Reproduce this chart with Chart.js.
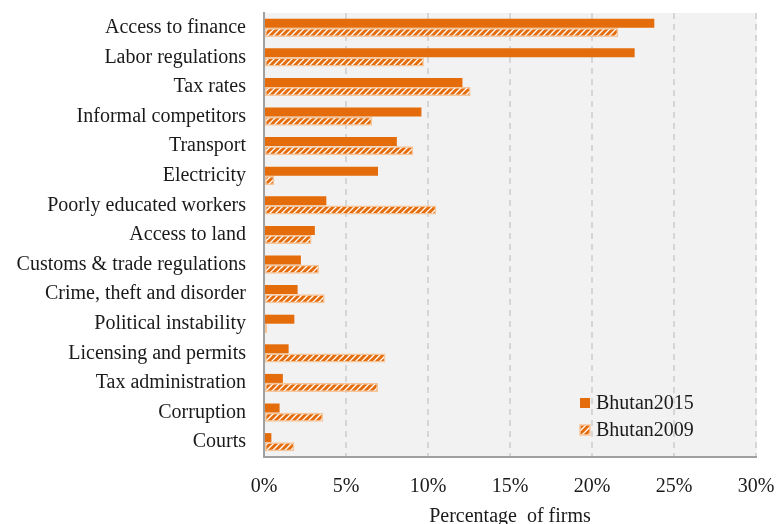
<!DOCTYPE html>
<html>
<head>
<meta charset="utf-8">
<script src="https://cdn.jsdelivr.net/npm/chart.js@4"></script>
<style>
  html, body { margin: 0; padding: 0; background: #ffffff; }
  #wrap { width: 776px; height: 524px; position: relative; }
</style>
</head>
<body>
<div id="wrap"><canvas id="obstacles"></canvas></div>
<script>
// Top business obstacles, share of firms (%)
const categories = [
  'Access to finance', 'Labor regulations', 'Tax rates', 'Informal competitors',
  'Transport', 'Electricity', 'Poorly educated workers', 'Access to land',
  'Customs & trade regulations', 'Crime, theft and disorder', 'Political instability',
  'Licensing and permits', 'Tax administration', 'Corruption', 'Courts'
];
const bhutan2015 = [23.8, 22.6, 12.1, 9.6, 8.1, 6.95, 3.8, 3.1, 2.25, 2.05, 1.85, 1.5, 1.15, 0.95, 0.45];
const bhutan2009 = [21.6, 9.75, 12.6, 6.6, 9.1, 0.63, 10.5, 2.9, 3.35, 3.7, 0.2, 7.4, 6.95, 3.6, 1.85];
const xTicks = [0, 5, 10, 15, 20, 25, 30];

const ORANGE = '#e46c0a';
const FONT = "'Liberation Serif', 'Times New Roman', serif";

// diagonal hatch used for the 2009 bars
const makeHatch = () => {
  const c = document.createElement('canvas');
  c.width = 6; c.height = 6;
  const g = c.getContext('2d');
  g.fillStyle = '#ffffff';
  g.fillRect(0, 0, 6, 6);
  g.strokeStyle = ORANGE;
  g.lineWidth = 3;
  g.beginPath();
  g.moveTo(-1, 7); g.lineTo(7, -1);
  g.moveTo(-4, 4); g.lineTo(4, -4);
  g.moveTo(2, 10); g.lineTo(10, 2);
  g.stroke();
  return g.createPattern(c, 'repeat');
};
const hatch = makeHatch();

// grey plot background
const plotBackground = {
  id: 'plotBackground',
  beforeDraw(chart) {
    const { ctx, chartArea: a } = chart;
    ctx.save();
    ctx.fillStyle = '#f2f2f2';
    ctx.fillRect(a.left, a.top, a.right - a.left + 1, a.bottom - a.top);
    ctx.restore();
  }
};

// legend drawn inside the plot, lower right
const innerLegend = {
  id: 'innerLegend',
  afterDraw(chart) {
    const { ctx } = chart;
    const x = 580, y0 = 403, step = 27;
    ctx.save();
    ctx.font = '20px ' + FONT;
    ctx.textBaseline = 'middle';
    chart.data.datasets.forEach((ds, i) => {
      const y = y0 + i * step;
      ctx.fillStyle = ds.backgroundColor;
      ctx.fillRect(x, y - 5, 10, 10);
      if (ds.borderWidth) {
        ctx.strokeStyle = ds.borderColor;
        ctx.lineWidth = 1.5;
        ctx.strokeRect(x, y - 5, 10, 10);
      }
      ctx.fillStyle = '#1a1a1a';
      ctx.fillText(ds.label, x + 16, y + 1);
    });
    ctx.restore();
  }
};

new Chart(document.getElementById('obstacles'), {
  type: 'bar',
  data: {
    labels: categories,
    datasets: [
      {
        label: 'Bhutan2015',
        data: bhutan2015,
        backgroundColor: ORANGE,
        borderWidth: 0,
        categoryPercentage: 0.62,
        barPercentage: 0.98
      },
      {
        label: 'Bhutan2009',
        data: bhutan2009,
        backgroundColor: hatch,
        borderColor: '#f7c59a',
        borderWidth: 1.5,
        borderSkipped: false,
        categoryPercentage: 0.62,
        barPercentage: 0.98
      }
    ]
  },
  options: {
    indexAxis: 'y',
    responsive: true,
    maintainAspectRatio: false,
    animation: false,
    layout: { autoPadding: false, padding: { top: 13, right: 20, bottom: 0, left: 0 } },
    scales: {
      x: {
        min: 0,
        max: 30,
        afterBuildTicks: (scale) => { scale.ticks = xTicks.map(v => ({ value: v })); },
        afterFit: (scale) => {
          scale.height = 67;
          scale.paddingLeft = 0;
          scale.paddingRight = 0;
        },
        ticks: {
          padding: 18,
          color: '#1a1a1a',
          font: { family: FONT, size: 20 },
          callback: (v) => v + '%'
        },
        grid: {
          color: '#d6d6d6',
          lineWidth: 2,
          drawTicks: false
        },
        border: { display: true, color: '#a0a0a0', width: 2, dash: [6, 5] },
        title: {
          display: true,
          text: 'Percentage  of firms',
          color: '#1a1a1a',
          font: { family: FONT, size: 20 },
          padding: { top: 0, bottom: -5 }
        }
      },
      y: {
        afterFit: (scale) => {
          scale.width = 264;
          scale.paddingTop = 0;
          scale.paddingBottom = 0;
        },
        ticks: {
          padding: 18,
          color: '#1a1a1a',
          font: { family: FONT, size: 20 }
        },
        grid: { display: false, drawTicks: false },
        border: { display: true, color: '#a0a0a0', width: 2 }
      }
    },
    plugins: {
      legend: { display: false },
      tooltip: { enabled: false }
    }
  },
  plugins: [plotBackground, innerLegend]
});
</script>
</body>
</html>
